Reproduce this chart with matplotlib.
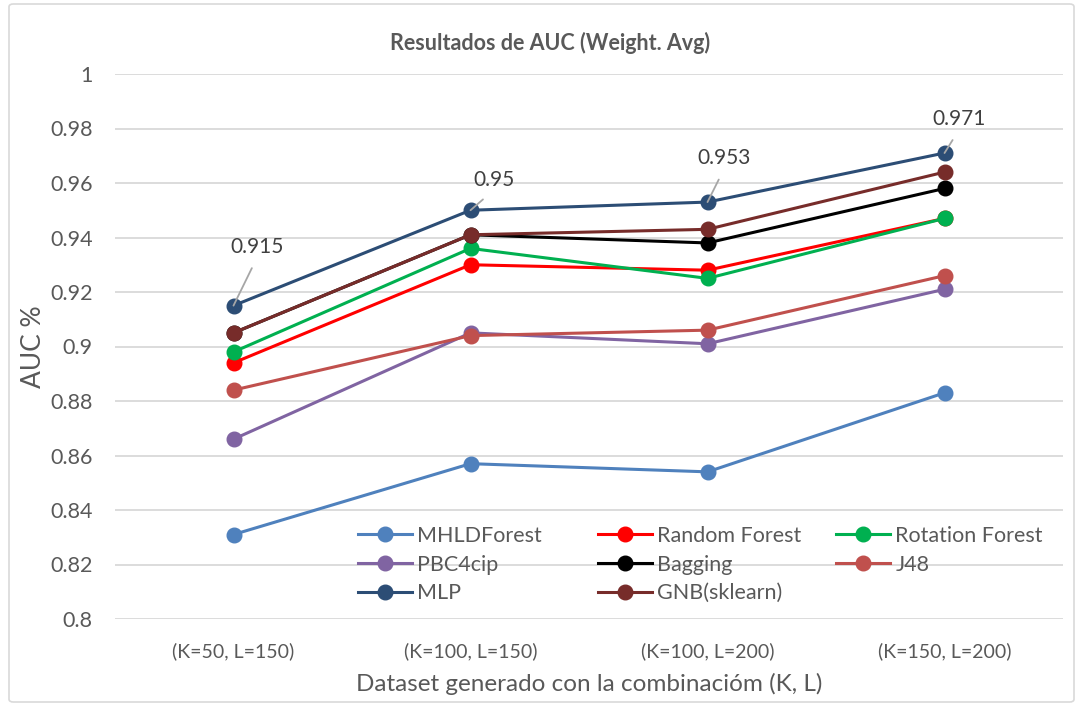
import matplotlib.pyplot as plt
from matplotlib.legend import Legend
from matplotlib.patches import FancyBboxPatch

categories = ['(K=50, L=150)', '(K=100, L=150)', '(K=100, L=200)', '(K=150, L=200)']

mhldforest = [0.831, 0.857, 0.854, 0.883]
random_forest = [0.894, 0.930, 0.928, 0.947]
rotation_forest = [0.898, 0.936, 0.925, 0.947]
pbc4cip = [0.866, 0.905, 0.901, 0.921]
bagging = [0.905, 0.941, 0.938, 0.958]
j48 = [0.884, 0.904, 0.906, 0.926]
mlp = [0.915, 0.950, 0.953, 0.971]
gnb = [0.905, 0.941, 0.943, 0.964]

series = [
    ('MHLDForest', mhldforest, '#4F81BD'),
    ('Random Forest', random_forest, '#FF0000'),
    ('Rotation Forest', rotation_forest, '#00B050'),
    ('PBC4cip', pbc4cip, '#8064A2'),
    ('Bagging', bagging, '#000000'),
    ('J48', j48, '#C0504D'),
    ('MLP', mlp, '#2C4D75'),
    ('GNB(sklearn)', gnb, '#772C2A'),
]

# data-label offsets for the MLP labels (pixels)
label_off = [(24, 49), (23, 20), (17, 34), (15, 24)]

plt.rcParams['font.family'] = ['Lato', 'DejaVu Sans']
txt = '#595959'
W, H = 1079, 706

fig = plt.figure(figsize=(W / 100, H / 100), dpi=100)
fig.patches.append(FancyBboxPatch((9 / W, 4 / H), 1 - 14 / W, 1 - 8 / H,
                                  boxstyle='round,pad=0,rounding_size=0.004',
                                  transform=fig.transFigure, fc='none', ec='#D9D9D9', lw=1.2))
ax = fig.add_axes([115 / W, 1 - 619 / H, 948 / W, 545 / H])

x = list(range(len(categories)))
lines = []
for name, vals, col in series:
    ln, = ax.plot(x, vals, color=col, lw=2.2, marker='o', markersize=10.5, label=name)
    lines.append(ln)

for i, v in enumerate(mlp):
    dx, dy = label_off[i]
    ax.annotate(f'{v:g}', xy=(i, v), xytext=(dx, dy), textcoords='offset pixels',
                ha='center', va='bottom', fontsize=15, color='#404040', zorder=5,
                arrowprops=dict(arrowstyle='-', color='#A6A6A6', lw=1.3, shrinkA=7, shrinkB=0,
                                relpos=(0.5, 0)))

ax.set_xlim(-0.5, 3.5)
ax.set_ylim(0.8, 1.0)
ax.set_yticks([0.8 + 0.02 * k for k in range(11)])
ax.set_yticklabels(['0.8', '0.82', '0.84', '0.86', '0.88', '0.9', '0.92', '0.94', '0.96', '0.98', '1'])
ax.set_xticks(x)
ax.set_xticklabels(categories)
ax.tick_params(axis='x', length=0, labelsize=14, colors=txt, pad=17)
ax.tick_params(axis='y', length=0, labelsize=15.5, colors=txt, pad=16)
ax.grid(axis='y', color='#D9D9D9', lw=1.3)
ax.set_axisbelow(True)
for s in ax.spines.values():
    s.set_visible(False)

fig.text(550 / W, 1 - 43 / H, 'Resultados de AUC (Weight. Avg)', ha='center', va='center',
         fontsize=15.5, fontweight='bold', color=txt)
ax.set_xlabel('Dataset generado con la combinacióm (K, L)', fontsize=17.5, color=txt, labelpad=9)
ax.set_ylabel('AUC %', fontsize=19, color=txt, labelpad=3)

# legend: three equal-width columns, filled row by row
col_x = [358, 598, 836]
for c in range(3):
    hs = lines[c::3]
    leg = Legend(ax, hs, [h.get_label() for h in hs], loc='upper left',
                 bbox_to_anchor=(col_x[c] / W, 1 - 526 / H), bbox_transform=fig.transFigure,
                 frameon=False, fontsize=15.5, labelcolor=txt, handlelength=2.5,
                 handletextpad=0.25, labelspacing=0.4, borderpad=0, borderaxespad=0)
    ax.add_artist(leg)

fig.savefig('out.png', dpi=100)
